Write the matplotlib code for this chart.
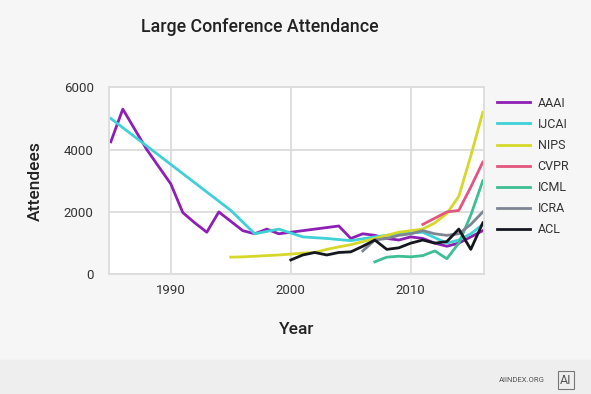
import matplotlib.pyplot as plt

# conference attendance
aaai_years = list(range(1985, 2017))
aaai = [4250, 5300, 4650, 4000, 3450, 2900, 1980, 1650, 1350, 2000, 1700, 1400,
        1300, 1450, 1300, 1350, 1400, 1450, 1500, 1550, 1150, 1300, 1250, 1150,
        1100, 1200, 1150, 1000, 900, 1000, 1200, 1400]

ijcai_years = [1985, 1987, 1989, 1991, 1993, 1995, 1997, 1999, 2001, 2003, 2005,
               2007, 2009, 2011, 2013, 2014, 2015, 2016]
ijcai = [5000, 4410, 3820, 3230, 2640, 2050, 1300, 1450, 1200, 1150, 1080,
         1200, 1300, 1350, 1000, 1100, 1300, 1600]

nips_years = list(range(1995, 2017))
nips = [550, 560, 580, 600, 620, 650, 680, 700, 800, 880, 950, 1050, 1150, 1250,
        1350, 1400, 1450, 1650, 1950, 2500, 3800, 5200]

cvpr_years = [2011, 2012, 2013, 2014, 2015, 2016]
cvpr = [1600, 1800, 2000, 2050, 2800, 3600]

icml_years = list(range(2007, 2017))
icml = [400, 550, 580, 560, 600, 750, 500, 1000, 1900, 3000]

icra_years = list(range(2006, 2017))
icra = [750, 1100, 1150, 1250, 1300, 1400, 1300, 1250, 1300, 1600, 2000]

acl_years = list(range(2000, 2017))
acl = [460, 620, 700, 620, 700, 720, 900, 1100, 800, 850, 1000, 1100, 1000,
       1050, 1450, 800, 1650]

series = [("AAAI", aaai_years, aaai, "#8e1fb5"),
          ("IJCAI", ijcai_years, ijcai, "#3fd0d8"),
          ("NIPS", nips_years, nips, "#d6d829"),
          ("CVPR", cvpr_years, cvpr, "#e2567f"),
          ("ICML", icml_years, icml, "#3dbf94"),
          ("ICRA", icra_years, icra, "#7d8592"),
          ("ACL", acl_years, acl, "#15171f")]

plt.rcParams['font.family'] = ['Roboto', 'DejaVu Sans']

fig = plt.figure(figsize=(5.91, 3.94), dpi=100, facecolor="#f6f6f6")
fig.patches.append(plt.Rectangle((0, 0), 1, 34 / 394, transform=fig.transFigure,
                                 color="#eeeeee", zorder=0))
ax = fig.add_axes([109 / 591, 1 - 274.3 / 394, 375 / 591, 187 / 394])
ax.set_facecolor("white")

for name, xs, ys, col in series:
    ax.plot(xs, ys, color=col, lw=2.0, label=name)

ax.set_xlim(1984.85, 2016.1)
ax.set_ylim(0, 6000)
ax.set_xticks([1990, 2000, 2010])
ax.set_yticks([0, 2000, 4000, 6000])
ax.grid(True, color="#dcdcdc", lw=1.3)
ax.set_axisbelow(True)
for s in ax.spines.values():
    s.set_color("#dcdcdc")
    s.set_linewidth(1.3)
ax.tick_params(length=0, labelsize=9.5, colors="#333333")
ax.tick_params(axis="y", pad=11)
ax.tick_params(axis="x", pad=7)

ax.set_xlabel("Year", fontsize=12.5, fontweight="medium", color="#222222", labelpad=18)
ax.set_ylabel("Attendees", fontsize=12.5, fontweight="medium", color="#222222", labelpad=15)

fig.text(260 / 591, 1 - 27 / 394, "Large Conference Attendance", ha="center", va="center",
         fontsize=12.8, fontweight="medium", color="#222222")

ax.legend(loc="upper left", bbox_to_anchor=(1.035, 0.95), frameon=False,
          borderaxespad=0, borderpad=0,
          fontsize=9, handlelength=2.65, labelspacing=0.65, handletextpad=0.6,
          labelcolor="#333333")

fig.text(545 / 591, 1 - 380 / 394, "AIINDEX.ORG", ha="right", va="center",
         fontsize=5.5, color="#555555")
fig.text(566 / 591, 1 - 380 / 394, "AI", ha="center", va="center",
         fontsize=9, color="#555555",
         bbox=dict(boxstyle="square,pad=0.2", fc="none", ec="#777777", lw=0.8))

fig.savefig("out.png", dpi=100, facecolor=fig.get_facecolor())
